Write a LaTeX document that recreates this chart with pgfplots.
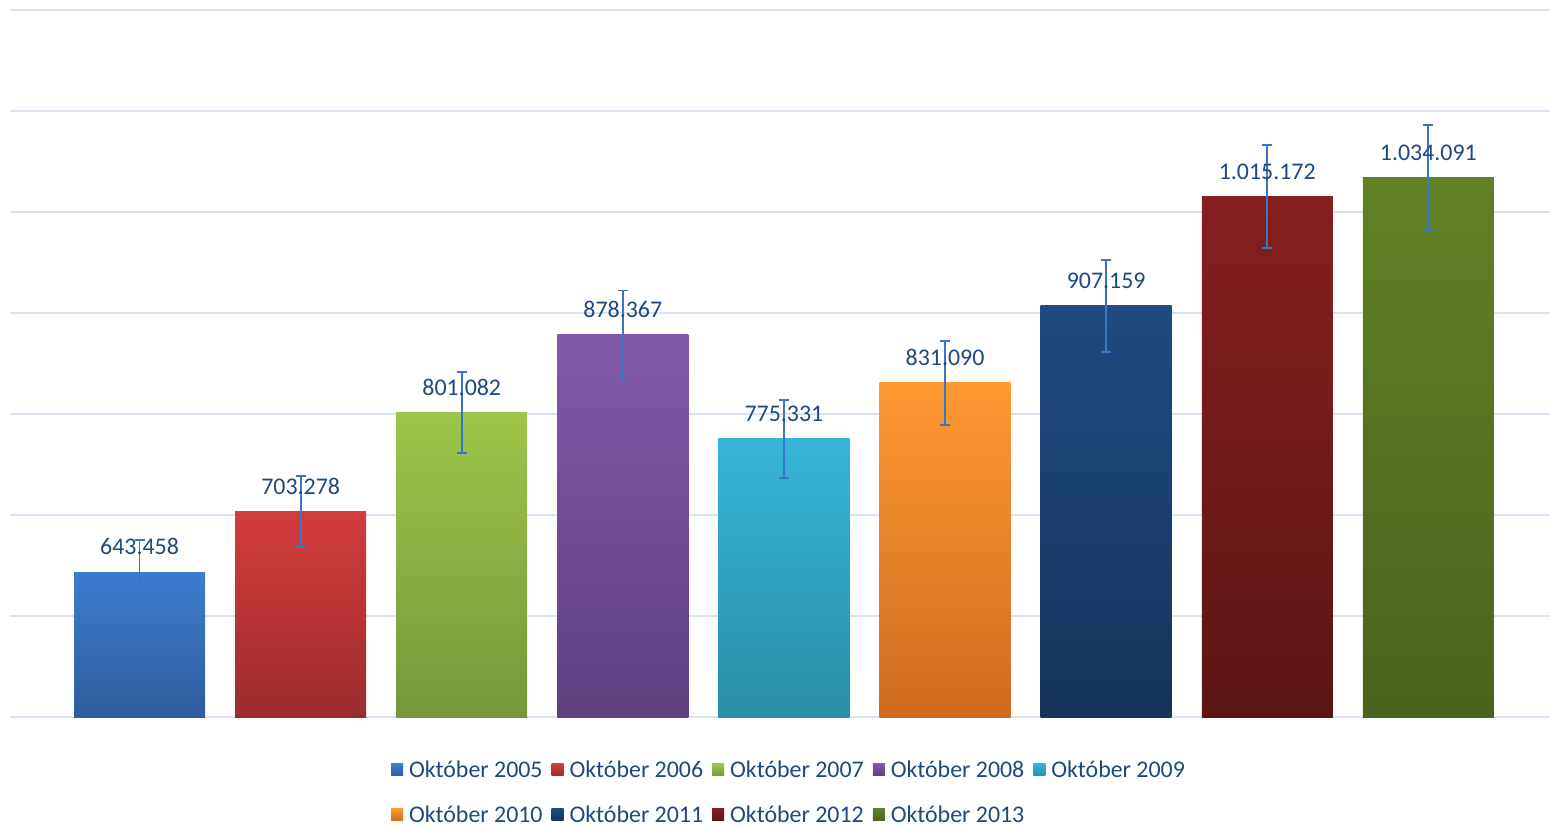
\documentclass[border=0pt]{standalone}
\usepackage{fontspec}
\setmainfont{Carlito}
\usepackage{pgfplots}
\usepackage{pgfplotstable}
\pgfplotsset{compat=1.18}

\definecolor{txt}{HTML}{1F497D}
\definecolor{grd}{HTML}{D9E3F1}
\definecolor{err}{HTML}{3A76C6}

\newcommand{\lblfont}{\fontsize{6.8}{8}\selectfont}

% value, +/- error, label
\pgfplotstableread{
x y e l
0 643458 32173 643.458
1 703278 35164 703.278
2 801082 40054 801.082
3 878367 43918 878.367
4 775331 38767 775.331
5 831090 41555 831.090
6 907159 45358 907.159
7 1015172 50759 1.015.172
8 1034091 51705 1.034.091
}\data

% bars start at the axis floor (500.000), so the values are drawn relative to it
\pgfplotsset{bar/.style={ybar, draw=none, restrict x to domain=#1:#1},
  table/rel/.style={x=x, y expr=\thisrow{y}-500000}}

\begin{document}
\begin{tikzpicture}
\begin{axis}[
  at={(0,0)}, anchor=south west,
  scale only axis, width=154mm, height=70.7mm,
  xmin=-0.804, xmax=8.755,
  ymin=0, ymax=700000,
  ytick={0,100000,200000,300000,400000,500000,600000,700000},
  scaled y ticks=false,
  ymajorgrids, grid style={grd, line width=0.2mm},
  xtick=\empty, yticklabels={},
  axis line style={draw=none}, major tick length=0pt,
  bar width=13.1mm,
  legend columns=5,
  legend cell align=left,
  legend image code/.code={\draw[#1, draw=none] (0mm,-0.5mm) rectangle (1.2mm,0.7mm);},
  legend style={at={(0.2474,-0.0601)}, anchor=north west, draw=none, fill=none,
    inner sep=0pt, outer sep=0pt, font=\lblfont, text=txt,
    nodes={inner sep=0pt, text height=1.8mm, text depth=0.5mm, text=txt},
    row sep=2.2mm,
    /tikz/every odd column/.append style={column sep=0.6mm},
    /tikz/every even column/.append style={column sep=0.9mm}},
]
\addplot[bar=0, top color={rgb,255:red,60;green,125;blue,208}, bottom color={rgb,255:red,46;green,93;blue,156}] table[rel] {\data};
\addplot[bar=1, top color={rgb,255:red,210;green,60;blue,60}, bottom color={rgb,255:red,156;green,44;blue,44}] table[rel] {\data};
\addplot[bar=2, top color={rgb,255:red,157;green,197;blue,74}, bottom color={rgb,255:red,119;green,151;blue,58}] table[rel] {\data};
\addplot[bar=3, top color={rgb,255:red,128;green,89;blue,170}, bottom color={rgb,255:red,94;green,64;blue,128}] table[rel] {\data};
\addplot[bar=4, top color={rgb,255:red,54;green,180;blue,216}, bottom color={rgb,255:red,42;green,142;blue,168}] table[rel] {\data};
\addplot[bar=5, top color={rgb,255:red,255;green,153;blue,51}, bottom color={rgb,255:red,206;green,106;blue,30}] table[rel] {\data};
\addplot[bar=6, top color={rgb,255:red,31;green,75;blue,130}, bottom color={rgb,255:red,21;green,51;blue,91}] table[rel] {\data};
\addplot[bar=7, top color={rgb,255:red,134;green,31;blue,31}, bottom color={rgb,255:red,92;green,20;blue,20}] table[rel] {\data};
\addplot[bar=8, top color={rgb,255:red,98;green,129;blue,37}, bottom color={rgb,255:red,74;green,99;blue,28}] table[rel] {\data};
\legend{Október 2005,Október 2006,Október 2007,Október 2008,Október 2009,Október 2010,Október 2011,Október 2012,Október 2013}
% labels and error bars on top of all bars
\addplot[forget plot, draw=none, mark=none,
  point meta=explicit symbolic,
  nodes near coords,
  every node near coord/.append style={font=\lblfont, text=txt, inner sep=0pt, anchor=south, yshift=1.65mm},
  error bars/.cd, y dir=both, y explicit,
  error bar style={err, line width=0.55pt},
  error mark options={rotate=90, err, mark size=0.5mm, line width=0.55pt}]
  table[rel, y error=e, meta=l] {\data};
\end{axis}
\pgfresetboundingbox
\path (-1mm,-10.8mm) rectangle (154mm,71.7mm);
\end{tikzpicture}
\end{document}
